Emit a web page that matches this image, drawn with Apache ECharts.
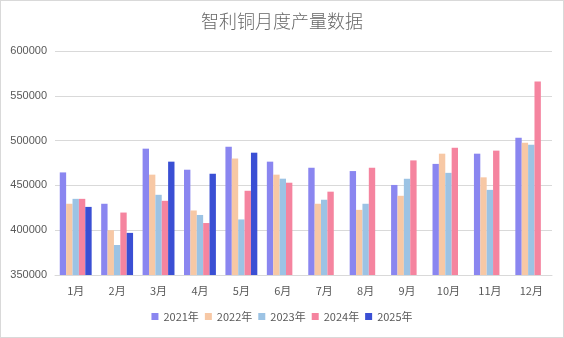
<!DOCTYPE html>
<html>
<head>
<meta charset="utf-8">
<script src="https://cdn.jsdelivr.net/npm/echarts@6/dist/echarts.min.js"></script>
<style>
html,body{margin:0;padding:0;background:#fff;}
#wrap{position:relative;width:564px;height:338px;}
#chart{width:564px;height:338px;}
#frame{position:absolute;left:0;top:0;width:564px;height:338px;box-sizing:border-box;border:1px solid #d9d9d9;pointer-events:none;}
</style>
</head>
<body>
<div id="wrap"><div id="chart"></div><div id="frame"></div></div>
<script>
const titleText = '智利铜月度产量数据';
const categories = ['1月','2月','3月','4月','5月','6月','7月','8月','9月','10月','11月','12月'];
const seriesNames = ['2021年','2022年','2023年','2024年','2025年'];
const y2021 = [464500,429500,491000,467500,493000,476500,469700,466000,450500,474000,485400,503300];
const y2022 = [429500,400000,462000,422000,480000,462000,429500,422700,438400,485400,459000,497700];
const y2023 = [435000,383500,439500,417000,412000,457500,434000,429500,457400,464000,445000,495500];
const y2024 = [435000,419700,432800,408000,444000,453000,443000,469700,477900,492000,488800,566000];
const y2025 = [426000,397000,476500,463000,486500,null,null,null,null,null,null,null];
const yMin = 350000, yMax = 600000, yStep = 50000;
const colors = ['#8a86f0','#f7c8a5','#9cc3e4','#f5849f','#3a4fd4'];

const allData = [y2021,y2022,y2023,y2024,y2025];
const chart = echarts.init(document.getElementById('chart'));
const txt = '#595959';
chart.setOption({
  animation:false,
  color: colors,
  title:{text:titleText,left:'center',top:7,textStyle:{fontSize:18,fontWeight:300,color:'#666',fontFamily:'Noto Sans CJK SC'}},
  legend:{data:seriesNames,bottom:11,left:'center',icon:'rect',itemWidth:7,itemHeight:7,itemGap:6,
    textStyle:{fontSize:11,color:txt,fontFamily:'Noto Sans CJK SC'}},
  grid:{left:55,right:12,top:51,bottom:63,containLabel:false},
  xAxis:{type:'category',data:categories,
    axisLine:{lineStyle:{color:'#d9d9d9'}},axisTick:{show:false},
    axisLabel:{fontSize:11,color:txt,margin:10,fontFamily:'Noto Sans CJK SC'}},
  yAxis:{type:'value',min:yMin,max:yMax,interval:yStep,
    axisLine:{show:false},axisTick:{show:false},
    splitLine:{lineStyle:{color:'#d9d9d9'}},
    axisLabel:{fontSize:11,color:txt,margin:8,fontFamily:'Liberation Sans',formatter:v=>String(v)}},
  series: seriesNames.map((n,i)=>({name:n,type:'bar',data:allData[i],barGap:'0%',barCategoryGap:'23%'}))
});
</script>
</body>
</html>
